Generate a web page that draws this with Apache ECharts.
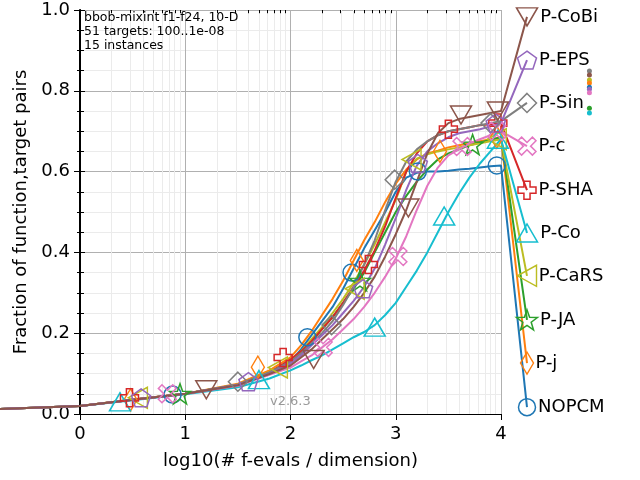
<!DOCTYPE html>
<html>
<head>
<meta charset="utf-8">
<script src="https://cdn.jsdelivr.net/npm/echarts@6.0.0/dist/echarts.min.js"></script>
<style>
html,body{margin:0;padding:0;background:#fff;}
#chart{width:640px;height:480px;}
</style>
</head>
<body>
<div id="chart"></div>
<script>
// x positions: log10(# f-evals / dimension)
var xs = [-0.8, 0, 0.5, 1.0, 1.5, 1.8, 2.0, 2.1, 2.2, 2.3, 2.4, 2.5, 2.6, 2.7, 2.8, 2.9, 3.0, 3.1, 3.2, 3.3, 3.4, 3.5, 3.6, 3.7, 3.8, 3.9, 4.0];

var yNOPCM = [0.012,0.02,0.035,0.05,0.072,0.102,0.13,0.16,0.195,0.23,0.265,0.31,0.36,0.41,0.455,0.50,0.55,0.585,0.597,0.60,0.60,0.602,0.605,0.607,0.61,0.613,0.615];
var yPj    = [0.012,0.02,0.036,0.05,0.075,0.108,0.14,0.17,0.205,0.245,0.285,0.33,0.38,0.43,0.475,0.525,0.57,0.605,0.63,0.645,0.652,0.66,0.665,0.67,0.675,0.68,0.685];
var yPJA   = [0.012,0.02,0.035,0.05,0.072,0.10,0.13,0.155,0.18,0.21,0.24,0.275,0.31,0.35,0.40,0.45,0.50,0.54,0.575,0.605,0.63,0.645,0.655,0.665,0.672,0.678,0.685];
var yPCaRS = [0.012,0.02,0.036,0.05,0.073,0.104,0.13,0.155,0.185,0.215,0.25,0.285,0.325,0.37,0.42,0.475,0.53,0.60,0.632,0.643,0.65,0.655,0.66,0.665,0.67,0.675,0.68];
var yPCo   = [0.012,0.02,0.034,0.049,0.066,0.088,0.108,0.12,0.133,0.145,0.16,0.175,0.19,0.203,0.22,0.245,0.275,0.315,0.355,0.40,0.45,0.50,0.545,0.585,0.62,0.65,0.68];
var yPSHA  = [0.012,0.02,0.035,0.05,0.072,0.102,0.135,0.155,0.18,0.21,0.24,0.275,0.315,0.355,0.405,0.465,0.535,0.60,0.645,0.675,0.69,0.70,0.705,0.71,0.715,0.717,0.72];
var yPc    = [0.012,0.02,0.035,0.05,0.07,0.097,0.115,0.13,0.145,0.165,0.185,0.21,0.235,0.265,0.30,0.34,0.385,0.44,0.505,0.565,0.61,0.64,0.655,0.67,0.68,0.69,0.70];
var yPSin  = [0.012,0.02,0.035,0.05,0.073,0.103,0.13,0.15,0.175,0.20,0.23,0.27,0.315,0.37,0.43,0.505,0.575,0.625,0.655,0.675,0.69,0.70,0.705,0.71,0.715,0.72,0.725];
var yPEPS  = [0.012,0.02,0.035,0.05,0.072,0.10,0.125,0.145,0.17,0.195,0.22,0.25,0.28,0.315,0.36,0.42,0.485,0.555,0.615,0.65,0.67,0.685,0.695,0.70,0.705,0.712,0.72];
var yPCoBi = [0.012,0.02,0.035,0.05,0.071,0.099,0.12,0.14,0.16,0.185,0.21,0.235,0.265,0.30,0.34,0.39,0.445,0.505,0.575,0.645,0.695,0.72,0.73,0.735,0.74,0.745,0.75];

// marker points along each curve
var mNOPCM = [[0.88,0.048],[2.16,0.19],[2.58,0.35],[3.21,0.60],[3.96,0.615]];
var mPj    = [[0.48,0.035],[1.69,0.116],[2.63,0.38],[3.42,0.65],[3.96,0.685]];
var mPJA   = [[0.95,0.05],[2.66,0.33],[3.73,0.667]];
var mPCaRS = [[0.55,0.04],[1.88,0.115],[2.61,0.31],[3.15,0.63],[3.96,0.68]];
var mPCo   = [[0.38,0.03],[1.7,0.085],[2.8,0.215],[3.46,0.49],[3.97,0.68]];
var mPSHA  = [[0.47,0.04],[1.93,0.14],[2.74,0.37],[3.5,0.705],[3.97,0.72]];
var mPc    = [[0.83,0.05],[2.31,0.165],[3.02,0.39],[3.63,0.662],[3.96,0.70]];
var mPSin  = [[1.5,0.08],[2.39,0.22],[2.99,0.58],[3.9,0.72]];
var mPEPS  = [[0.58,0.04],[1.6,0.08],[2.69,0.31],[3.21,0.62],[3.95,0.72]];
var mPCoBi = [[1.2,0.06],[2.22,0.135],[3.12,0.51],[3.62,0.74],[3.97,0.75]];

var names  = ['P-CoBi','P-EPS','P-Sin','P-c','P-SHA','P-Co','P-CaRS','P-JA','P-j','NOPCM'];
var labelX = 4.247;
var labelY = [0.983, 0.876, 0.770, 0.663, 0.554, 0.448, 0.342, 0.233, 0.126, 0.017];

// small dots right of the labels
var dotX = 4.84;
var dotY = [0.849, 0.839, 0.827, 0.819, 0.809, 0.804, 0.795, 0.757, 0.745];
var dotNames = ['P-Sin','P-CoBi','P-CaRS','P-j','NOPCM','P-EPS','P-c','P-JA','P-Co'];

var curves = {
  'P-CoBi': yPCoBi, 'P-EPS': yPEPS, 'P-Sin': yPSin, 'P-c': yPc, 'P-SHA': yPSHA,
  'P-Co': yPCo, 'P-CaRS': yPCaRS, 'P-JA': yPJA, 'P-j': yPj, 'NOPCM': yNOPCM
};
var marks = {
  'P-CoBi': mPCoBi, 'P-EPS': mPEPS, 'P-Sin': mPSin, 'P-c': mPc, 'P-SHA': mPSHA,
  'P-Co': mPCo, 'P-CaRS': mPCaRS, 'P-JA': mPJA, 'P-j': mPj, 'NOPCM': mNOPCM
};

var colors = {
  'NOPCM':'#1f77b4','P-j':'#ff7f0e','P-JA':'#2ca02c','P-CaRS':'#bcbd22','P-Co':'#17becf',
  'P-SHA':'#d62728','P-c':'#e377c2','P-Sin':'#7f7f7f','P-EPS':'#9467bd','P-CoBi':'#8c564b'
};
var symbols = {
  'NOPCM': ['circle', [17,17]],
  'P-j': ['diamond', [13,22]],
  'P-JA': ['path://M10,0 L12.35,6.76 L19.51,6.91 L13.80,11.24 L15.88,18.09 L10,14 L4.12,18.09 L6.20,11.24 L0.49,6.91 L7.65,6.76 Z', [21,20]],
  'P-CaRS': ['path://M9,0 L9,10 L0,5 Z', [19,21]],
  'P-Co': ['path://M0,9 L10,9 L5,0 Z', [21,18]],
  'P-SHA': ['path://M3.3,0 H6.7 V3.3 H10 V6.7 H6.7 V10 H3.3 V6.7 H0 V3.3 H3.3 Z', [18,18]],
  'P-c': ['path://M2,0 L5,3 L8,0 L10,2 L7,5 L10,8 L8,10 L5,7 L2,10 L0,8 L3,5 L0,2 Z', [18,18]],
  'P-Sin': ['diamond', [19,19]],
  'P-EPS': ['path://M10,0 L19.51,6.91 L15.88,18.09 L4.12,18.09 L0.49,6.91 Z', [19,18]],
  'P-CoBi': ['path://M0,0 L10,0 L5,9 Z', [21,18]]
};

// plot box; a second, hidden grid spans the whole canvas with the same scale
// so the curves can run past the axes to the labels
var W = 640, H = 480;
var G = {left: 80, right: 139, top: 10, bottom: 66};
var pxX = (W - G.left - G.right) / 4;
var pxY = (H - G.top - G.bottom) / 1;
var fullX = [-G.left / pxX, 4 + G.right / pxX];
var fullY = [-G.bottom / pxY, 1 + G.top / pxY];

// minor log gridlines / ticks
var minorX = [];
for (var d = 0; d < 4; d++) {
  for (var k = 2; k <= 9; k++) minorX.push(d + Math.log10(k));
}

var series = [];
series.push({
  type: 'line', data: [], silent: true, z: 1,
  markLine: {
    silent: true, symbol: 'none', animation: false, label: {show: false},
    lineStyle: {color: '#ebebeb', width: 1, type: 'solid'},
    data: minorX.map(function (v) { return {xAxis: v}; })
  }
});
series.push({
  type: 'line', data: [], silent: true, z: 3,
  markLine: {
    silent: true, symbol: 'none', animation: false, label: {show: false},
    lineStyle: {color: '#000', width: 1, type: 'solid'},
    data: minorX.map(function (v) { return [{coord: [v, 0]}, {coord: [v, -0.008]}]; })
      .concat(minorX.map(function (v) { return [{coord: [v, 1]}, {coord: [v, 0.992]}]; }))
  }
});

for (var i = names.length - 1; i >= 0; i--) {
  var nm = names[i];
  var ys = curves[nm];
  var pts = [];
  for (var j = 0; j < xs.length; j++) pts.push([xs[j], ys[j]]);
  pts.push([labelX, labelY[i]]);
  series.push({
    name: nm, type: 'line', data: pts, showSymbol: false, clip: false, z: 5,
    xAxisIndex: 2, yAxisIndex: 2,
    silent: true, animation: false,
    lineStyle: {color: colors[nm], width: 2}
  });
  var mk = marks[nm].map(function (p) { return p; });
  mk.push({
    value: [labelX, labelY[i]],
    label: {show: true, position: 'right', distance: 0, formatter: nm,
      color: '#000', fontSize: 18, fontFamily: 'DejaVu Sans'}
  });
  series.push({
    name: nm + '-m', type: 'scatter', data: mk, clip: false, z: 6,
    xAxisIndex: 2, yAxisIndex: 2,
    silent: true, animation: false,
    symbol: symbols[nm][0], symbolSize: symbols[nm][1],
    itemStyle: {color: 'none', borderColor: colors[nm], borderWidth: 1.5, opacity: 1}
  });
}

series.push({
  type: 'scatter', clip: false, z: 6, silent: true, animation: false,
  xAxisIndex: 2, yAxisIndex: 2,
  symbol: 'circle', symbolSize: 5,
  data: dotY.map(function (v, n) {
    return {value: [dotX, v], itemStyle: {color: colors[dotNames[n]], opacity: 1}};
  })
});

var dom = document.getElementById('chart');
var myChart = echarts.init(dom);
var option = {
  animation: false,
  backgroundColor: '#fff',
  grid: [
    {left: G.left, right: G.right, top: G.top, bottom: G.bottom},
    {left: 0, right: 0, top: 0, bottom: 0}
  ],
  xAxis: [
    {
      type: 'value', min: 0, max: 4, interval: 1,
      name: 'log10(# f-evals / dimension)', nameLocation: 'middle', nameGap: 38,
      nameTextStyle: {fontSize: 18, color: '#000', fontFamily: 'DejaVu Sans'},
      axisLine: {lineStyle: {color: '#000', width: 1}},
      axisTick: {show: true, inside: false, length: 6, lineStyle: {color: '#000'}},
      axisLabel: {fontSize: 18, color: '#000', margin: 11, fontFamily: 'DejaVu Sans'},
      splitLine: {show: true, lineStyle: {color: '#b0b0b0', width: 1}}
    },
    {
      type: 'value', min: 0, max: 4, interval: 1, position: 'top',
      axisLine: {show: true, lineStyle: {color: '#000', width: 1}},
      axisTick: {show: true, inside: true, length: 5, lineStyle: {color: '#000'}},
      axisLabel: {show: false}, splitLine: {show: false}
    },
    {
      type: 'value', gridIndex: 1, min: fullX[0], max: fullX[1], show: false
    }
  ],
  yAxis: [
    {
      type: 'value', min: 0, max: 1, interval: 0.2,
      name: 'Fraction of function,target pairs', nameLocation: 'middle', nameGap: 37,
      nameTextStyle: {fontSize: 18, color: '#000', fontFamily: 'DejaVu Sans'},
      axisLine: {show: true, lineStyle: {color: '#000', width: 1}},
      axisTick: {show: true, inside: false, length: 6, lineStyle: {color: '#000'}},
      minorTick: {show: true, splitNumber: 4, length: 3, lineStyle: {color: '#000'}},
      minorSplitLine: {show: true, lineStyle: {color: '#ebebeb', width: 1}},
      axisLabel: {fontSize: 18, color: '#000', margin: 10, fontFamily: 'DejaVu Sans',
        formatter: function (v) { return v.toFixed(1); }},
      splitLine: {show: true, lineStyle: {color: '#b0b0b0', width: 1}}
    },
    {
      type: 'value', min: 0, max: 1, interval: 0.2, position: 'right',
      axisLine: {show: true, lineStyle: {color: '#000', width: 2}},
      axisTick: {show: true, inside: false, length: 5, lineStyle: {color: '#000'}},
      minorTick: {show: true, splitNumber: 4, length: 4, lineStyle: {color: '#000'}},
      axisLabel: {show: false}, splitLine: {show: false}
    },
    {
      type: 'value', gridIndex: 1, min: fullY[0], max: fullY[1], show: false
    }
  ],
  graphic: [
    {
      type: 'text', left: 84, top: 11, z: 10,
      style: {
        text: 'bbob-mixint f1-f24, 10-D\n51 targets: 100..1e-08\n15 instances',
        font: '12.5px "DejaVu Sans"', fill: '#000', lineHeight: 14
      }
    },
    {
      type: 'text', left: 270, top: 395, z: 10,
      style: {text: 'v2.6.3', font: '13px "DejaVu Sans"', fill: '#999'}
    }
  ],
  series: series
};
myChart.setOption(option);
</script>
</body>
</html>
